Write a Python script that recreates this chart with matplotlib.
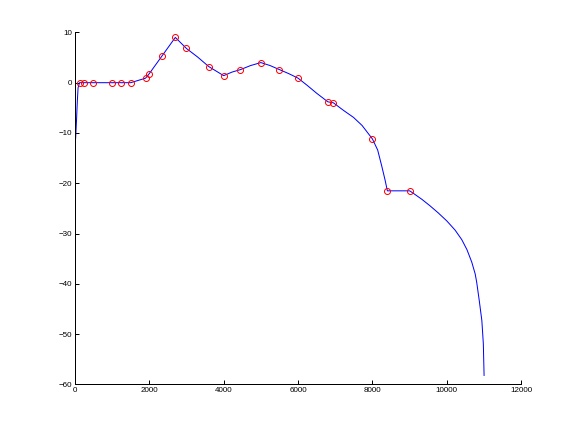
import numpy as np
import matplotlib
matplotlib.use("Agg")
import matplotlib.pyplot as plt

# Marker points (red circles)
marker_x = [125, 250, 500, 1000, 1250, 1500, 1900, 2000, 2350, 2700, 3000,
            3600, 4000, 4450, 5000, 5500, 6000, 6800, 6950, 8000, 8400, 9000]
marker_y = [0, 0, 0, 0, 0, 0, 0.9, 1.8, 5.4, 9.0, 6.8,
            3.2, 1.4, 2.6, 4.0, 2.6, 0.9, -3.8, -4.0, -11.2, -21.5, -21.5]

# Blue curve
curve_x = [20, 43, 65, 86, 125, 250, 500, 1000, 1250, 1500, 1900, 2000,
           2350, 2700, 3000, 3300, 3600, 4000, 4220, 4450, 4720, 5000,
           5250, 5500, 5750, 6000, 6240, 6500, 6800, 6950, 7220, 7490,
           7720, 8000, 8140, 8250, 8340, 8400, 9000, 9100, 9330, 9550,
           9770, 10000, 10220, 10400, 10540, 10670, 10760, 10800, 10870,
           10940, 10980, 11000]
curve_y = [-11.1, -7.6, -3.8, -1.0, 0, 0, 0, 0, 0, 0, 0.9, 1.8,
           5.4, 9.0, 6.8, 5.1, 3.2, 1.4, 2.1, 2.6, 3.4, 4.0,
           3.4, 2.6, 1.8, 0.9, -0.5, -2.1, -3.8, -4.0, -5.5, -6.9,
           -8.5, -11.2, -13.4, -16.6, -19.4, -21.5, -21.5, -22.0, -23.2,
           -24.5, -25.9, -27.5, -29.3, -31.2, -33.2, -35.7, -38.0, -39.6,
           -43.3, -47.3, -51.9, -58.2]

x_ticks = [0, 2000, 4000, 6000, 8000, 10000, 12000]
y_ticks = [-60, -50, -40, -30, -20, -10, 0, 10]

plt.rcParams['font.family'] = ['Liberation Sans', 'DejaVu Sans']
fig = plt.figure(figsize=(8, 6), dpi=72)
ax = fig.add_axes([0.13, 0.11, 0.775, 0.815])

ax.plot(curve_x, curve_y, color=(0, 0, 1), linewidth=1)
ax.plot(marker_x, marker_y, linestyle='none', marker='o', markersize=6,
        markerfacecolor='none', markeredgecolor=(1, 0, 0), markeredgewidth=1)

ax.set_xlim(0, 12000)
ax.set_ylim(-60, 10)
ax.set_xticks(x_ticks)
ax.set_yticks(y_ticks)
ax.set_xticklabels([str(v) for v in x_ticks])
ax.set_yticklabels([str(v).replace('-', '\u2212') for v in y_ticks])
for s in ['top', 'right']:
    ax.spines[s].set_visible(False)
for s in ['left', 'bottom']:
    ax.spines[s].set_linewidth(1)
    ax.spines[s].set_color('black')
ax.tick_params(direction='in', length=4, width=1, labelsize=8, pad=3,
               colors='black')

fig.savefig('out.png', dpi=72)
